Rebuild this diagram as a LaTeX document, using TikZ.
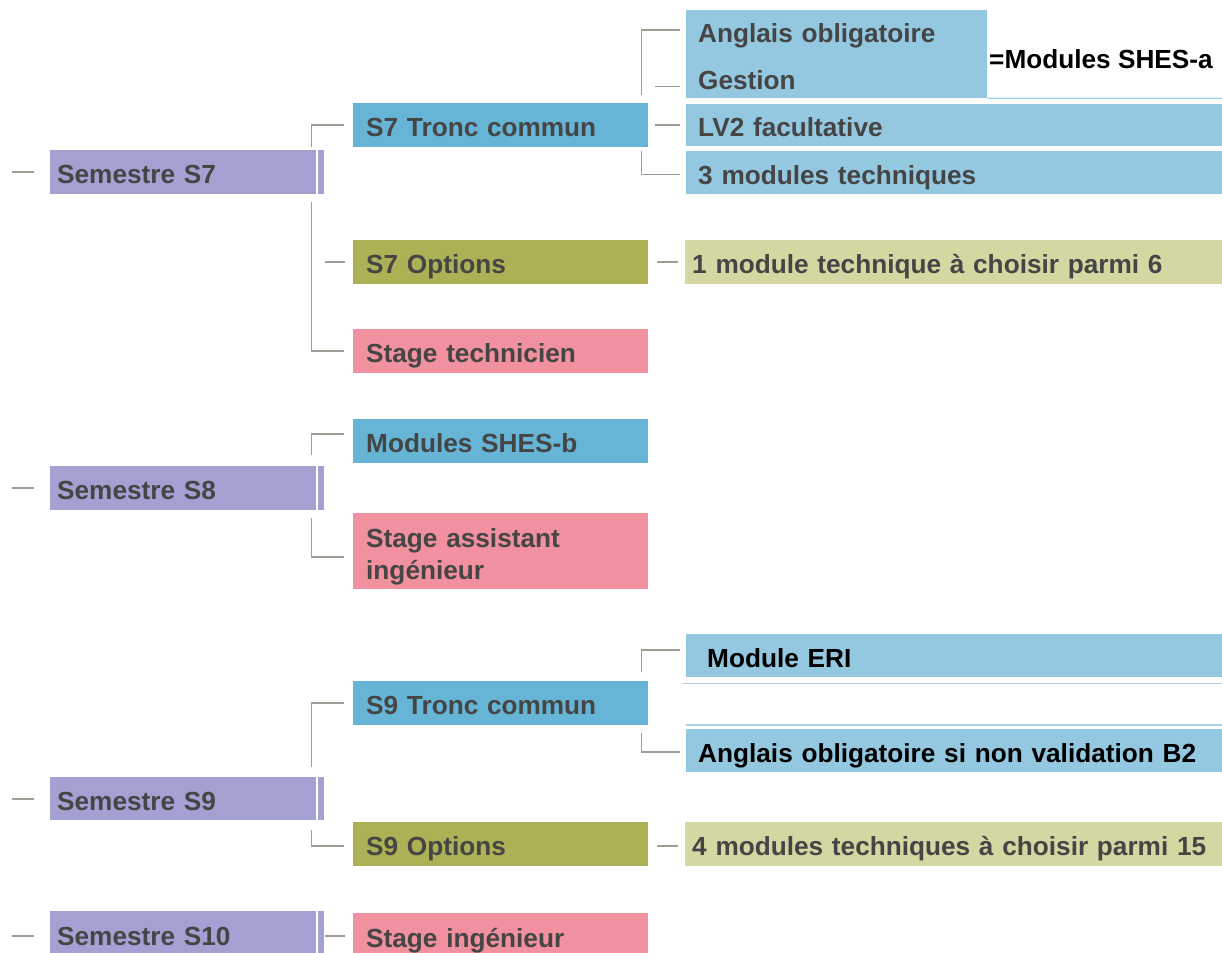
\documentclass[tikz,border=0pt]{standalone}
\usepackage{fontspec}
\setmainfont{Liberation Sans}
\usetikzlibrary{calc}
\definecolor{semcol}{HTML}{A3A1D1}
\definecolor{bluedark}{HTML}{66B5D6}
\definecolor{bluelight}{HTML}{93C8E0}
\definecolor{olive}{HTML}{ADB155}
\definecolor{olivelight}{HTML}{D4D7A1}
\definecolor{pinkc}{HTML}{F1909F}
\definecolor{linegray}{HTML}{A29D93}
\definecolor{txtgray}{HTML}{454545}
\definecolor{thinblue}{HTML}{A8D2E6}
\newcommand\bfnt{\fontsize{26.2}{30}\selectfont\bfseries}
\tikzset{
  bx/.style={rectangle, anchor=north west, inner ysep=0pt, inner xsep=13pt, align=left, font=\bfnt, text=txtgray, draw=none, text height=26pt, text depth=3pt},
  multi/.style={text height={}, text depth={}},
  sembox/.style={bx, fill=semcol, inner xsep=7pt, text width=252pt, minimum height=44pt},
  strip/.style={rectangle, anchor=north west, inner sep=0pt, fill=semcol, minimum width=6pt, minimum height=44pt},
  midbox/.style={bx, text width=269pt, minimum height=44pt},
  widebox/.style={bx, fill=bluelight, inner xsep=12pt, text width=512pt, minimum height=43pt},
  conn/.style={draw=linegray, line width=1.6pt},
  thinl/.style={draw=thinblue, line width=1.5pt}
}
\begin{document}
\begin{tikzpicture}[x=1pt,y=-1pt]
\useasboundingbox[fill=white] (0,0) rectangle (1222,952);

% ---------- S7 ----------
\node[sembox] (s7) at (50,150) {Semestre S7};
\node[strip] (s7s) at (318,150) {};
\node[midbox, fill=bluedark] (tc7) at (353,103) {S7 Tronc commun};
\node[midbox, fill=olive] (opt7) at (353,240) {S7 Options};
\node[midbox, fill=pinkc] (st7) at (353,329) {Stage technicien};
\node[bx, multi, fill=bluelight, inner xsep=12pt, text width=277pt, minimum height=88pt,
      font=\fontsize{26.2}{47}\selectfont\bfseries] (ang) at (686,10) {\rule{0pt}{24pt}Anglais obligatoire\\Gestion};
\node[anchor=west, inner sep=0pt, font=\fontsize{26.2}{30}\selectfont\bfseries, text=black] (shesa) at (989,59) {=Modules SHES-a};
\node[widebox, minimum height=42pt] (lv2) at (686,104) {LV2 facultative};
\node[widebox] (m3) at (686,151) {3 modules techniques};
\node[bx, fill=olivelight, inner xsep=7pt, text width=523pt, minimum height=44pt] (ch7) at (685,240) {1 module technique à choisir parmi 6};

\draw[thinl] (ang.south east) -- (1222,98.5);

\draw[conn] ($(s7.west)+(-38,0)$) -- ($(s7.west)+(-16,0)$);
\draw[conn] ($(s7.north east)+(-5,-3)$) |- ($(tc7.west)+(-9,0)$);
\draw[conn] ($(s7.south east)+(-5,8)$) |- ($(st7.west)+(-9,0)$);
\draw[conn] ($(opt7.west)+(-28,0)$) -- ($(opt7.west)+(-8,0)$);
\draw[conn] ($(tc7.north east)+(-7,-8)$) |- ($(ang.north west)+(-6,20)$);
\draw[conn] ($(ang.south west)+(-31,-12)$) -- ($(ang.south west)+(-6,-12)$);
\draw[conn] ($(lv2.west)+(-31,0)$) -- ($(lv2.west)+(-6,0)$);
\draw[conn] ($(tc7.south east)+(-7,4)$) |- ($(m3.west)+(-6,2)$);
\draw[conn] ($(opt7.east)+(9,0)$) -- ($(ch7.west)+(-7,0)$);

% ---------- S8 ----------
\node[sembox] (s8) at (50,466) {Semestre S8};
\node[strip] (s8s) at (318,466) {};
\node[midbox, fill=bluedark] (shesb) at (353,419) {Modules SHES-b};
\node[midbox, multi, fill=pinkc, minimum height=76pt, font=\fontsize{26.2}{32}\selectfont\bfseries] (sai) at (353,513) {\rule{0pt}{30pt}Stage assistant\\ingénieur};

\draw[conn] ($(s8.west)+(-38,0)$) -- ($(s8.west)+(-16,0)$);
\draw[conn] ($(s8.north east)+(-5,-11)$) |- ($(shesb.west)+(-9,-7)$);
\draw[conn] ($(s8.south east)+(-5,8)$) |- ($(sai.west)+(-9,6)$);

% ---------- S9 ----------
\node[sembox, minimum height=43pt] (s9) at (50,777) {Semestre S9};
\node[strip, minimum height=43pt] (s9s) at (318,777) {};
\node[midbox, fill=bluedark] (tc9) at (353,681) {S9 Tronc commun};
\node[midbox, fill=olive] (opt9) at (353,822) {S9 Options};
\node[widebox, inner xsep=21pt, text width=494pt, text=black] (eri) at (686,634) {Module ERI};
\node[widebox, text=black] (ang9) at (686,729) {Anglais obligatoire si non validation B2};
\node[bx, fill=olivelight, inner xsep=7pt, text width=523pt, minimum height=44pt] (ch9) at (685,822) {4 modules techniques à choisir parmi 15};

\draw[thinl] ($(eri.south west)+(-3,6)$) -- ($(eri.south east)+(0,6)$);
\draw[thinl] ($(ang9.north west)+(0,-4)$) -- ($(ang9.north east)+(0,-4)$);

\draw[conn] ($(s9.west)+(-38,0)$) -- ($(s9.west)+(-16,0)$);
\draw[conn] ($(s9.north east)+(-5,-10)$) |- ($(tc9.west)+(-9,0)$);
\draw[conn] ($(s9.south east)+(-5,10)$) |- ($(opt9.west)+(-9,2)$);
\draw[conn] ($(opt9.east)+(9,2)$) -- ($(ch9.west)+(-7,2)$);
\draw[conn] ($(tc9.north east)+(-7,-9)$) |- ($(eri.north west)+(-6,16)$);
\draw[conn] ($(tc9.south east)+(-7,8)$) |- ($(ang9.west)+(-6,1.5)$);

% ---------- S10 ----------
\node[sembox, minimum height=45pt] (s10) at (50,911) {Semestre S10};
\node[strip, minimum height=45pt] (s10s) at (318,911) {};
\node[midbox, fill=pinkc, minimum height=45pt] (sti) at (353,913) {Stage ingénieur};

\draw[conn] ($(s10.west)+(-38,2)$) -- ($(s10.west)+(-16,2)$);
\draw[conn] ($(sti.west)+(-28,0)$) -- ($(sti.west)+(-8,0)$);
\end{tikzpicture}
\end{document}
